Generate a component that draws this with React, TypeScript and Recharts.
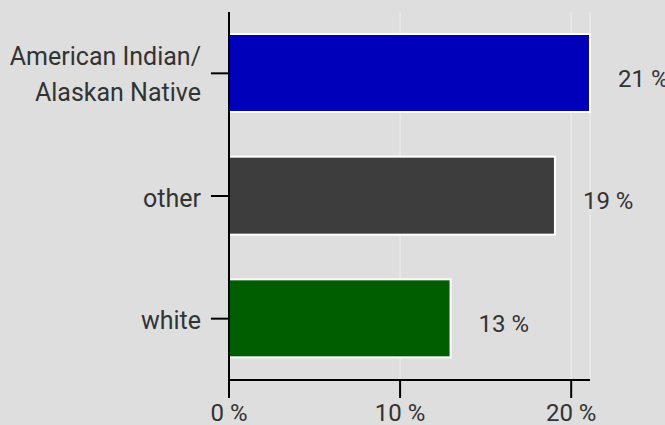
import { Bar, BarChart, CartesianGrid, LabelList, XAxis, YAxis } from "recharts";

const categories = ["American Indian/\nAlaskan Native", "other", "white"];
const shares = [21.1, 19.05, 12.95];
const barColors = ["#0000bb", "#3d3d3d", "#005e00"];
const xTicks = [0, 10, 20];

const data = categories.map((name, i) => ({
  name,
  share: shares[i],
  color: barColors[i],
}));

const TEXT = "#333333";
const FONT = "Roboto, sans-serif";

function CategoryTick({ x, y, payload }: { x?: number; y?: number; payload?: { value: string } }) {
  const lines = String(payload?.value ?? "").split("\n");
  const cy = y ?? 0;
  // single line baseline sits ~11px under the band centre; two lines straddle it
  const first = lines.length === 1 ? cy + 10.6 : cy - 8.8;
  return (
    <text x={x} y={first} textAnchor="end" fill={TEXT} fontSize={25} fontFamily={FONT}>
      {lines.map((line, i) => (
        <tspan key={i} x={x} dy={i === 0 ? 0 : 36}>
          {line}
        </tspan>
      ))}
    </text>
  );
}

function ValueLabel(props: any) {
  const { x, y, width, height, value } = props;
  return (
    <text
      x={Number(x) + Number(width) + 28}
      y={Number(y) + Number(height) / 2 + 13.5}
      fill={TEXT}
      fontSize={24}
      fontFamily={FONT}
    >
      {`${Math.round(Number(value))} %`}
    </text>
  );
}

export default function App() {
  return (
    <div style={{ position: "fixed", left: 0, top: 0, width: 665, height: 425, background: "#dedede" }}>
      <BarChart
        width={665}
        height={425}
        data={data}
        layout="vertical"
        margin={{ top: 12, right: 75, bottom: 0, left: 0 }}
      >
        <CartesianGrid horizontal={false} stroke="#e9e9e9" strokeWidth={1.5} />
        <Bar
          dataKey="share"
          barSize={78}
          isAnimationActive={false}
          shape={(p: any) => (
            <rect
              x={p.x}
              y={p.y}
              width={p.width}
              height={p.height}
              fill={p.payload.color}
              stroke="#ffffff"
              strokeWidth={2}
            />
          )}
        >
          <LabelList dataKey="share" content={ValueLabel} />
        </Bar>
        <XAxis
          type="number"
          domain={[0, "dataMax"]}
          ticks={xTicks}
          height={45}
          axisLine={{ stroke: "#000", strokeWidth: 2 }}
          tickLine={{ stroke: "#000", strokeWidth: 2 }}
          tickSize={18}
          tickMargin={6}
          tick={{ fill: TEXT, fontSize: 24, fontFamily: FONT }}
          tickFormatter={(v: number) => `${v} %`}
        />
        <YAxis
          type="category"
          dataKey="name"
          width={229}
          axisLine={{ stroke: "#000", strokeWidth: 2 }}
          tickLine={{ stroke: "#000", strokeWidth: 2 }}
          tickSize={18}
          tickMargin={10}
          tick={<CategoryTick />}
        />
      </BarChart>
    </div>
  );
}
